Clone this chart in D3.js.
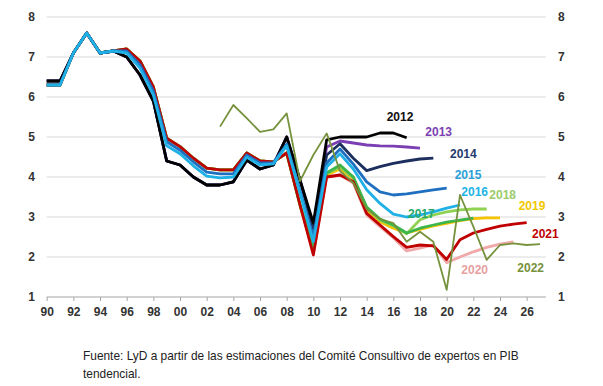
<!DOCTYPE html>
<html>
<head>
<meta charset="utf-8">
<script src="https://cdn.jsdelivr.net/npm/d3@7"></script>
<style>
  body { margin: 0; background: #fff; }
  svg { display: block; font-family: "Liberation Sans", Arial, sans-serif; }
  .tick-label { font-size: 12px; font-weight: bold; fill: #333; }
  .serie-label { font-size: 12px; font-weight: bold; }
  .fuente { font-size: 11.9px; fill: #222; }
</style>
</head>
<body>
<svg id="chart" width="603" height="386"></svg>
<script>

// history 1990-2009, shared by several vintages
var histRed  = [6.3, 6.3, 7.1, 7.6, 7.1, 7.15, 7.2, 6.9, 6.25, 4.97, 4.76, 4.47, 4.22, 4.18, 4.18, 4.6, 4.4, 4.38, 4.6, 3.3];
var histBlue = [6.3, 6.3, 7.1, 7.6, 7.1, 7.15, 7.15, 6.8, 6.15, 4.88, 4.67, 4.38, 4.12, 4.08, 4.08, 4.55, 4.35, 4.36, 4.82, 3.65];
var histCyan = [6.3, 6.3, 7.1, 7.6, 7.1, 7.15, 7.1, 6.72, 6.05, 4.78, 4.58, 4.28, 4.02, 3.98, 4.0, 4.5, 4.3, 4.33, 4.78, 3.6];
var histBlack = [6.4, 6.4, 7.1, 7.6, 7.1, 7.15, 7.0, 6.55, 5.9, 4.4, 4.3, 4.0, 3.8, 3.8, 3.88, 4.42, 4.2, 4.3, 5.0, 3.92];

// each vintage from 2010 on
var v2012 = [2.85, 4.93, 5.0, 5.0, 5.0, 5.1, 5.1, 4.98];
var v2013 = [2.78, 4.75, 4.9, 4.85, 4.8, 4.78, 4.77, 4.75, 4.72];
var v2014 = [2.7, 4.55, 4.83, 4.47, 4.16, 4.26, 4.34, 4.4, 4.45, 4.47];
var v2015 = [2.5, 4.35, 4.7, 4.32, 3.88, 3.63, 3.55, 3.58, 3.63, 3.68, 3.72];
var v2016 = [2.38, 4.25, 4.58, 4.2, 3.68, 3.34, 3.07, 3.0, 3.05, 3.13, 3.22, 3.3];
var v2017 = [2.25, 4.1, 4.3, 4.0, 3.25, 2.95, 2.8, 2.6, 2.72, 2.8, 2.87, 2.92, 2.97];
var v2018 = [2.2, 4.08, 4.25, 3.98, 3.22, 2.92, 2.78, 2.58, 2.93, 3.05, 3.13, 3.18, 3.2, 3.2];
var v2019 = [2.15, 4.05, 4.2, 3.95, 3.18, 2.88, 2.72, 2.6, 2.69, 2.78, 2.84, 2.91, 2.96, 2.98, 2.98];
var v2020 = [2.1, 4.0, 4.05, 3.85, 3.05, 2.76, 2.48, 2.15, 2.22, 2.3, 1.86, 2.0, 2.13, 2.24, 2.32, 2.38];
var v2021 = [2.05, 4.0, 4.05, 3.88, 3.09, 2.8, 2.51, 2.24, 2.3, 2.28, 1.94, 2.43, 2.6, 2.69, 2.77, 2.82, 2.86];
// 2022 vintage starts in 2003
var v2022 = [5.26, 5.8, 5.47, 5.13, 5.19, 5.59, 3.9, 4.55, 5.09, 4.15, 3.85, 3.2, 2.95, 2.85, 2.38, 2.63, 2.38, 1.18, 3.55, 2.76, 1.93, 2.3, 2.34, 2.3, 2.32];

var yTicks = [1, 2, 3, 4, 5, 6, 7, 8];
var xTicks = d3.range(1990, 2027, 2);

// drawing order: later in list = on top
var series = [
    {key: '2020', color: '#f0a8a8', label: '#e6a0a0', start: 1990, values: histRed.concat(v2020)},
    {key: '2019', color: '#f7c300', label: '#f2c800', start: 1990, values: histRed.concat(v2019)},
    {key: '2018', color: '#8fd150', label: '#9bcb6b', start: 1990, values: histRed.concat(v2018)},
    {key: '2017', color: '#3cb54a', label: '#27a86a', start: 1990, values: histRed.concat(v2017)},
    {key: '2021', color: '#c00000', label: '#c00000', start: 1990, values: histRed.concat(v2021)},
    {key: '2013', color: '#7b3fb3', label: '#7b3fb3', start: 1990, values: histBlack.concat(v2013)},
    {key: '2014', color: '#1c2f5e', label: '#1f3a6e', start: 1990, values: histBlack.concat(v2014)},
    {key: '2012', color: '#000000', label: '#111111', start: 1990, values: histBlack.concat(v2012)},
    {key: '2015', color: '#1f6fc0', label: '#2aa0d8', start: 1990, values: histBlue.concat(v2015)},
    {key: '2016', color: '#1fb0e6', label: '#20b4e6', start: 1990, values: histCyan.concat(v2016)},
    {key: '2022', color: '#76923c', label: '#77913c', start: 2003, values: v2022}
];

// where each vintage name sits, in (year, value)
var labelAt = {
    '2012': [2016.5, 5.51], '2013': [2019.4, 5.13], '2014': [2021.25, 4.59],
    '2015': [2021.6, 4.05], '2016': [2022.1, 3.63], '2018': [2024.2, 3.55],
    '2019': [2026.4, 3.27], '2017': [2018.1, 3.09], '2021': [2027.4, 2.58],
    '2020': [2022.1, 1.69], '2022': [2026.3, 1.74]
};

var svg = d3.select("#chart");

var x = d3.scaleLinear().domain([1990, 2027]).range([46.7, 540]);
var y = d3.scaleLinear().domain([1, 8]).range([297, 17]);
var xEnd = 546;

//----------------------------------------------------------------------
// grid
svg.append("g")
    .selectAll("line")
    .data(yTicks.filter(d => d > 1))
    .enter().append("line")
    .attr("x1", x(1990)).attr("x2", xEnd)
    .attr("y1", d => y(d)).attr("y2", d => y(d))
    .attr("stroke", "#d9d9d9")
    .attr("stroke-width", 1.2);

// x axis
var xAxis = svg.append("g")
    .attr("transform", `translate(0,${y(1)})`)
    .call(d3.axisBottom(x)
        .tickValues(xTicks)
        .tickSize(4)
        .tickPadding(6)
        .tickFormat(d => d3.format("02d")(d % 100)));

xAxis.select(".domain").attr("d", `M${x(1990)},0H${xEnd}`).attr("stroke", "#a6a6a6").attr("stroke-width", 1.2);
xAxis.selectAll(".tick line").attr("stroke", "#a6a6a6");
xAxis.selectAll(".tick text").attr("class", "tick-label");
xAxis.attr("font-size", null).attr("font-family", null);

// y axes left and right
var yLeft = svg.append("g")
    .attr("transform", "translate(35,0)")
    .call(d3.axisLeft(y).tickValues(yTicks).tickSize(0).tickPadding(0).tickFormat(d3.format("d")));
var yRight = svg.append("g")
    .attr("transform", "translate(558,0)")
    .call(d3.axisRight(y).tickValues(yTicks).tickSize(0).tickPadding(0).tickFormat(d3.format("d")));

[yLeft, yRight].forEach(function(g) {
    g.select(".domain").remove();
    g.attr("font-size", null).attr("font-family", null);
    g.selectAll(".tick text").attr("class", "tick-label");
});

//----------------------------------------------------------------------
// lines
var line = d3.line()
    .x(d => x(d.year))
    .y(d => y(d.value));

svg.append("g")
    .selectAll("path")
    .data(series)
    .enter().append("path")
    .attr("fill", "none")
    .attr("stroke", d => d.color)
    .attr("stroke-width", d => d.key == '2022' ? 1.8 : 2.8)
    .attr("stroke-linejoin", "round")
    .attr("d", d => line(d.values.map((v, i) => ({year: d.start + i, value: v}))));

// vintage names
svg.append("g")
    .selectAll("text")
    .data(series)
    .enter().append("text")
    .attr("class", "serie-label")
    .attr("x", d => x(labelAt[d.key][0]))
    .attr("y", d => y(labelAt[d.key][1]))
    .attr("dy", "0.35em")
    .attr("text-anchor", "middle")
    .attr("fill", d => d.label)
    .text(d => d.key);

// source note
var note = svg.append("text")
    .attr("class", "fuente")
    .attr("x", 83)
    .attr("y", 360);
note.append("tspan").attr("x", 83).text("Fuente: LyD a partir de las estimaciones del Comité Consultivo de expertos en PIB");
note.append("tspan").attr("x", 83).attr("dy", 18).text("tendencial.");

</script>
</body>
</html>
